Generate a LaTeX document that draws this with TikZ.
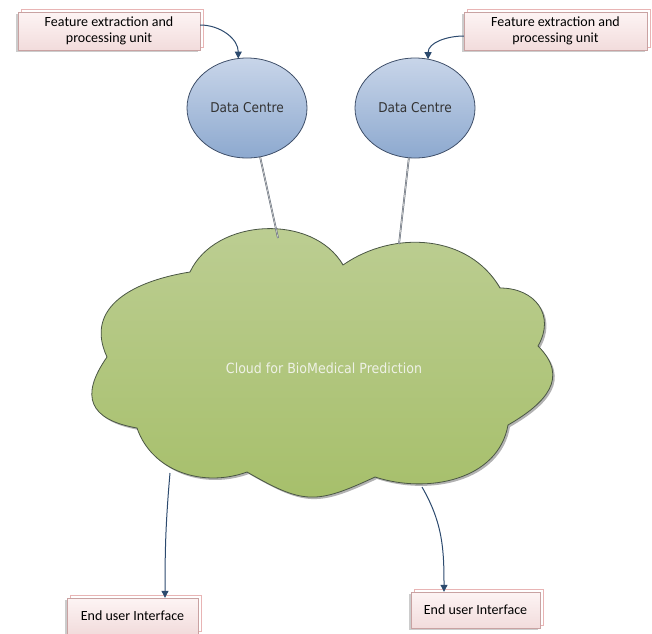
\documentclass[tikz,border=0pt]{standalone}
\usepackage{fontspec}
\setmainfont{Carlito}
\newfontfamily\dcfont{DejaVu Sans}[FakeStretch=0.9]
\usetikzlibrary{arrows.meta,calc,shadows,shapes.geometric}
\definecolor{boxtop}{HTML}{FDF4F4}
\definecolor{boxbot}{HTML}{F2DCDC}
\definecolor{boxline}{HTML}{C9A2A2}
\definecolor{boxback}{HTML}{E8B4B4}
\definecolor{dctop}{HTML}{C8D5E9}
\definecolor{dcbot}{HTML}{8DA9CF}
\definecolor{dcline}{HTML}{3F4F69}
\definecolor{cltop}{HTML}{BDCE94}
\definecolor{clbot}{HTML}{A6BF6A}
\definecolor{clline}{HTML}{4A5644}
\definecolor{cltext}{HTML}{EEF1E6}
\definecolor{arrcol}{HTML}{2C4A6E}
\definecolor{linkcol}{HTML}{5A6472}
\newcommand\mycloudpath{(107,-357) to[out=115,in=189,looseness=1.2] (190,-272) to[out=65,in=120] (343,-265) to[out=35,in=120] (500,-288) to[out=0,in=60,looseness=1.3] (538,-346) to[out=-45,in=30,looseness=1.35] (508,-425) to[out=-100,in=-18] (375,-477) to[out=-155,in=-30,looseness=1.3] (247,-472) to[out=-160,in=-71] (137,-428) to[out=170,in=235,looseness=1.6] (107,-357) -- cycle}
\begin{document}
\begin{tikzpicture}[x=1pt,y=1pt,
  box/.style={rectangle, draw=boxline, top color=boxtop, bottom color=boxbot, align=center,
    font=\fontsize{14}{16}\selectfont, text=black, inner sep=2pt,
    drop shadow={shadow xshift=-2pt, shadow yshift=-2pt, fill=black, opacity=0.2},
    copy shadow={shadow xshift=3pt, shadow yshift=3pt, draw=boxback, fill=white}},
  dc/.style={ellipse, draw=dcline, line width=0.8pt, top color=dctop, bottom color=dcbot,
    minimum width=120, minimum height=100, inner sep=0pt, outer sep=0pt,
    font=\dcfont\fontsize{13.5}{15}\selectfont, text=black!80},
  arr/.style={draw=arrcol, line width=1pt, -{Triangle[length=7pt,width=7pt]}},
  link/.style={draw=linkcol, line width=0.5pt, double=black!20, double distance=0.7pt}
]
\useasboundingbox (0,0) rectangle (652,-633);
% cloud
\fill[black!30, shift={(2,-2)}] \mycloudpath;
\draw[draw=clline, line width=0.8pt, top color=cltop, bottom color=clbot] \mycloudpath;
\node[font=\dcfont\fontsize{14}{16}\selectfont, text=cltext] (cloud) at (324,-368) {Cloud for BioMedical Prediction};
\coordinate (cL) at (278,-238);
\coordinate (cR) at (399,-244);
\coordinate (bL) at (170,-473);
\coordinate (bR) at (422,-487);
% feature boxes
\node[box, minimum width=182, minimum height=38] (fL) at (109,-31) {Feature extraction and\\processing unit};
\node[box, minimum width=183, minimum height=38] (fR) at (555.5,-31) {Feature extraction and\\processing unit};
% data centres
\node[dc] (dL) at (247,-108) {Data Centre};
\node[dc] (dR) at (415,-108) {Data Centre};
% end user boxes
\node[box, minimum width=131, minimum height=36] (eL) at (132.5,-616) {End user Interface};
\node[box, minimum width=129, minimum height=36] (eR) at (475.5,-610) {End user Interface};
% connectors
\draw[arr] ($(fL.east)+(0,6)$) to[out=0,in=90] (dL.100);
\draw[arr] ($(fR.west)+(0,-5)$) to[out=180,in=90] (dR.75);
\draw[link] (dL.-75) -- (cL);
\draw[link] (dR.-97) -- (cR);
\draw[arr] (bL) to[out=-95,in=90] ($(eL.north)+(32.5,0)$);
\draw[arr] (bR) to[out=-60,in=90] ($(eR.north)+(-31.5,0)$);
\end{tikzpicture}
\end{document}
